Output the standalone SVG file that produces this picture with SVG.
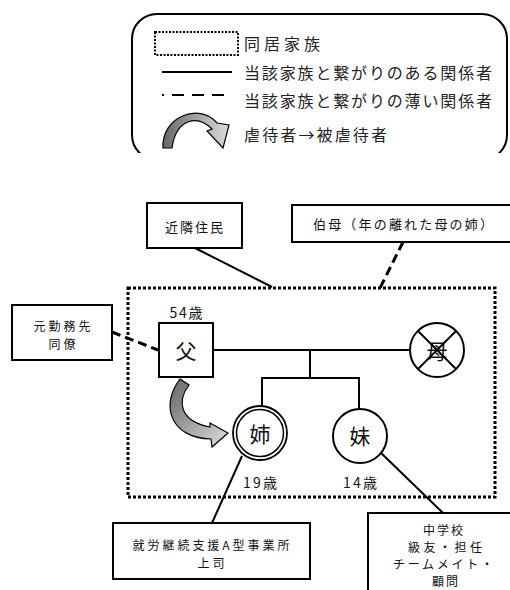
<svg xmlns="http://www.w3.org/2000/svg" width="510" height="590" viewBox="0 0 510 590">
  <defs>
    <style>
      .t { font-family: "Noto Sans CJK JP", "Liberation Sans", sans-serif; fill: #111; dominant-baseline: central; text-anchor: middle; }
      .lg { font-family: "Noto Sans CJK JP", "Liberation Serif", serif; fill: #222; font-size: 16px; dominant-baseline: central; }
      .box { fill: #fff; stroke: #000; stroke-width: 2; }
      .ln { stroke: #000; stroke-width: 2; fill: none; }
      .dash { stroke: #000; stroke-width: 3; stroke-dasharray: 9 5; fill: none; }
      .big { font-size: 21px; }
      .sm { font-size: 13px; }
      .xs { font-size: 12px; }
      .age { font-size: 14px; }
    </style>
    <linearGradient id="gArrow" x1="0" y1="0" x2="1" y2="1">
      <stop offset="0" stop-color="#666"/>
      <stop offset="1" stop-color="#ddd"/>
    </linearGradient>
    <linearGradient id="gLeg" x1="0" y1="0" x2="1" y2="0">
      <stop offset="0" stop-color="#666"/>
      <stop offset="1" stop-color="#ddd"/>
    </linearGradient>
    <clipPath id="legClip">
      <rect x="0" y="0" width="510" height="153"/>
    </clipPath>
  </defs>

  <!-- Legend -->
  <g id="legend">
    <rect x="132" y="14" width="375" height="146" rx="25" ry="25" fill="#fff" stroke="#000" stroke-width="2" clip-path="url(#legClip)"/>
    <rect x="155" y="32" width="83" height="23" fill="none" stroke="#000" stroke-width="2" stroke-dasharray="2 1.5"/>
    <text class="lg" x="244" y="43" textLength="76">同居家族</text>
    <line x1="162" y1="72" x2="232" y2="72" stroke="#000" stroke-width="2"/>
    <text class="lg" x="244" y="72" textLength="248">当該家族と繋がりのある関係者</text>
    <line x1="162" y1="95" x2="232" y2="95" stroke="#000" stroke-width="2" stroke-dasharray="12 8" stroke-dashoffset="10"/>
    <text class="lg" x="244" y="100" textLength="248">当該家族と繋がりの薄い関係者</text>
    <path d="M163,148 C161,117 199,102 217,123 L229,125 L223,148 L207,131 L212,129 C197,114 176,119 172,148 Z" fill="url(#gLeg)" stroke="#000" stroke-width="1.2"/>
    <text class="lg" x="244" y="134" textLength="143">虐待者→被虐待者</text>
  </g>

  <!-- Family cohabitation boundary -->
  <g id="family-boundary">
    <rect x="128" y="288" width="367" height="209" fill="none" stroke="#000" stroke-width="3" stroke-dasharray="3 2"/>
  </g>

  <!-- Connectors -->
  <g id="connectors">
    <line class="ln" x1="195" y1="248" x2="272" y2="287" stroke-width="2.5"/>
    <line class="dash" x1="403" y1="242" x2="380" y2="288"/>
    <line class="dash" x1="112" y1="332" x2="158" y2="350"/>
    <line class="ln" x1="213" y1="350" x2="410" y2="350"/>
    <line class="ln" x1="310" y1="350" x2="310" y2="378"/>
    <line class="ln" x1="262" y1="378" x2="359" y2="378"/>
    <line class="ln" x1="262" y1="377" x2="262" y2="406"/>
    <line class="ln" x1="359" y1="377" x2="359" y2="409"/>
    <line class="ln" x1="242" y1="456" x2="212" y2="523"/>
    <line class="ln" x1="380" y1="452" x2="443" y2="513"/>
    <path id="abuse-arrow" d="M180,379 L189,385 C177,401 179,421 210,427 L210,423 L228,433 L212,447 L211,439 C170,438 160,405 180,379 Z" fill="url(#gArrow)" stroke="#000" stroke-width="1.2"/>
  </g>

  <!-- Nodes -->
  <g id="neighbors">
    <rect class="box" x="147" y="203" width="95" height="45"/>
    <text class="t sm" x="194" y="226" textLength="58">近隣住民</text>
  </g>
  <g id="aunt">
    <rect class="box" x="292" y="205" width="222" height="37"/>
    <text class="t sm" x="403" y="223" textLength="180">伯母（年の離れた母の姉）</text>
  </g>
  <g id="former-coworkers">
    <rect class="box" x="12" y="305" width="100" height="55"/>
    <text class="t xs" x="62" y="325" textLength="57">元勤務先</text>
    <text class="t xs" x="62" y="343" textLength="27">同僚</text>
  </g>
  <g id="father">
    <text class="t age" x="186" y="312" textLength="33">54歳</text>
    <rect class="box" x="159" y="323" width="54" height="54"/>
    <text class="t big" x="186" y="350">父</text>
  </g>
  <g id="mother">
    <circle cx="437" cy="350" r="27" fill="#fff" stroke="#000" stroke-width="2"/>
    <text class="t big" x="437" y="350">母</text>
    <line class="ln" x1="418" y1="331" x2="456" y2="369"/>
    <line class="ln" x1="456" y1="331" x2="418" y2="369"/>
  </g>
  <g id="elder-sister">
    <circle cx="260" cy="433" r="27" fill="#fff" stroke="#000" stroke-width="1.8"/>
    <circle cx="260" cy="433" r="23.5" fill="none" stroke="#000" stroke-width="1.5"/>
    <text class="t big" x="260" y="433">姉</text>
    <text class="t age" x="260" y="482" textLength="34">19歳</text>
  </g>
  <g id="younger-sister">
    <circle cx="360" cy="436" r="27" fill="#fff" stroke="#000" stroke-width="2"/>
    <text class="t big" x="360" y="435">妹</text>
    <text class="t age" x="360" y="482" textLength="34">14歳</text>
  </g>
  <g id="workplace">
    <rect class="box" x="113" y="523" width="197" height="56"/>
    <text class="t xs" x="211" y="544" textLength="157">就労継続支援A型事業所</text>
    <text class="t xs" x="211" y="562" textLength="27">上司</text>
  </g>
  <g id="school">
    <rect class="box" x="368" y="513" width="146" height="85"/>
    <text class="t xs" x="443" y="529" textLength="40">中学校</text>
    <text class="t xs" x="445" y="546" textLength="74">級友・担任</text>
    <text class="t xs" x="443" y="563" textLength="100">チームメイト・</text>
    <text class="t xs" x="445" y="580" textLength="26">顧問</text>
  </g>
</svg>
